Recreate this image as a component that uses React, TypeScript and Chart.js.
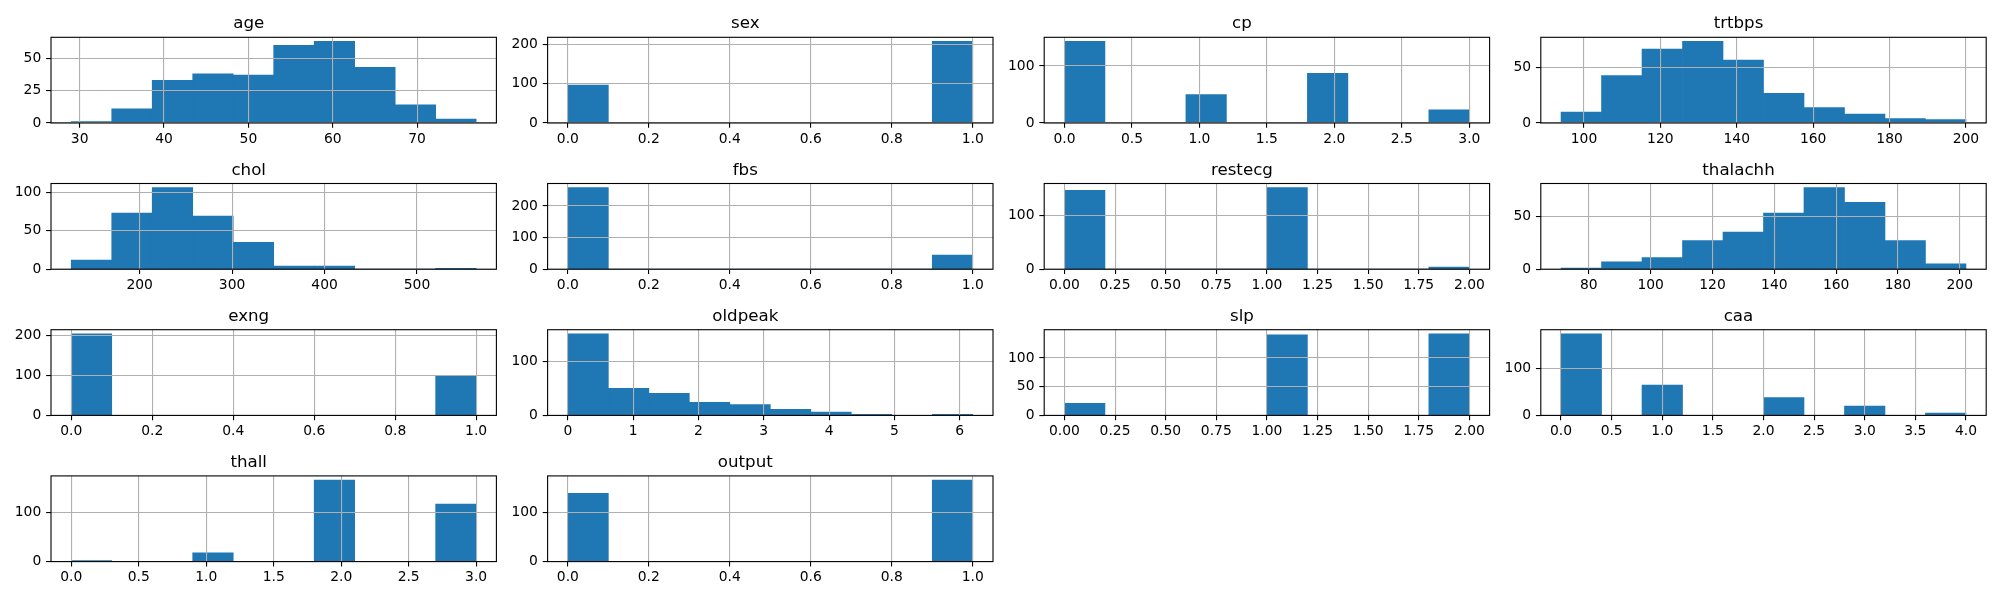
import React, { useEffect, useRef } from "react";
import { Chart, registerables } from "chart.js";

Chart.register(...registerables);

// ---------------- data ----------------
const titles = ["age", "sex", "cp", "trtbps", "chol", "fbs", "restecg", "thalachh", "exng", "oldpeak", "slp", "caa", "thall", "output"];

const ageRange = [29, 77];
const ageCounts = [1, 11, 33, 38, 37, 60, 63, 43, 14, 3];
const ageXTicks = ["30", "40", "50", "60", "70"];
const ageYTicks = ["0", "25", "50"];

const sexRange = [0, 1];
const sexCounts = [96, 0, 0, 0, 0, 0, 0, 0, 0, 207];
const sexXTicks = ["0.0", "0.2", "0.4", "0.6", "0.8", "1.0"];
const sexYTicks = ["0", "100", "200"];

const cpRange = [0, 3];
const cpCounts = [143, 0, 0, 50, 0, 0, 87, 0, 0, 23];
const cpXTicks = ["0.0", "0.5", "1.0", "1.5", "2.0", "2.5", "3.0"];
const cpYTicks = ["0", "100"];

const trtbpsRange = [94, 200];
const trtbpsCounts = [10, 43, 67, 74, 57, 27, 14, 8, 4, 3];
const trtbpsXTicks = ["100", "120", "140", "160", "180", "200"];
const trtbpsYTicks = ["0", "50"];

const cholRange = [126, 564];
const cholCounts = [12, 73, 106, 69, 35, 4, 4, 0, 0, 1];
const cholXTicks = ["200", "300", "400", "500"];
const cholYTicks = ["0", "50", "100"];

const fbsRange = [0, 1];
const fbsCounts = [258, 0, 0, 0, 0, 0, 0, 0, 0, 45];
const fbsXTicks = ["0.0", "0.2", "0.4", "0.6", "0.8", "1.0"];
const fbsYTicks = ["0", "100", "200"];

const restecgRange = [0, 2];
const restecgCounts = [147, 0, 0, 0, 0, 152, 0, 0, 0, 4];
const restecgXTicks = ["0.00", "0.25", "0.50", "0.75", "1.00", "1.25", "1.50", "1.75", "2.00"];
const restecgYTicks = ["0", "100"];

const thalachhRange = [71, 202];
const thalachhCounts = [1, 7, 11, 27, 35, 53, 77, 63, 27, 5];
const thalachhXTicks = ["80", "100", "120", "140", "160", "180", "200"];
const thalachhYTicks = ["0", "50"];

const exngRange = [0, 1];
const exngCounts = [204, 0, 0, 0, 0, 0, 0, 0, 0, 99];
const exngXTicks = ["0.0", "0.2", "0.4", "0.6", "0.8", "1.0"];
const exngYTicks = ["0", "100", "200"];

const oldpeakRange = [0, 6.2];
const oldpeakCounts = [151, 50, 41, 24, 20, 11, 6, 2, 0, 2];
const oldpeakXTicks = ["0", "1", "2", "3", "4", "5", "6"];
const oldpeakYTicks = ["0", "100"];

const slpRange = [0, 2];
const slpCounts = [21, 0, 0, 0, 0, 140, 0, 0, 0, 142];
const slpXTicks = ["0.00", "0.25", "0.50", "0.75", "1.00", "1.25", "1.50", "1.75", "2.00"];
const slpYTicks = ["0", "50", "100"];

const caaRange = [0, 4];
const caaCounts = [175, 0, 65, 0, 0, 38, 0, 20, 0, 5];
const caaXTicks = ["0.0", "0.5", "1.0", "1.5", "2.0", "2.5", "3.0", "3.5", "4.0"];
const caaYTicks = ["0", "100"];

const thallRange = [0, 3];
const thallCounts = [2, 0, 0, 18, 0, 0, 166, 0, 0, 117];
const thallXTicks = ["0.0", "0.5", "1.0", "1.5", "2.0", "2.5", "3.0"];
const thallYTicks = ["0", "100"];

const outputRange = [0, 1];
const outputCounts = [138, 0, 0, 0, 0, 0, 0, 0, 0, 165];
const outputXTicks = ["0.0", "0.2", "0.4", "0.6", "0.8", "1.0"];
const outputYTicks = ["0", "100"];

type Panel = { title: string; range: number[]; counts: number[]; xTicks: string[]; yTicks: string[] };

const panels: Panel[] = [
  { title: titles[0], range: ageRange, counts: ageCounts, xTicks: ageXTicks, yTicks: ageYTicks },
  { title: titles[1], range: sexRange, counts: sexCounts, xTicks: sexXTicks, yTicks: sexYTicks },
  { title: titles[2], range: cpRange, counts: cpCounts, xTicks: cpXTicks, yTicks: cpYTicks },
  { title: titles[3], range: trtbpsRange, counts: trtbpsCounts, xTicks: trtbpsXTicks, yTicks: trtbpsYTicks },
  { title: titles[4], range: cholRange, counts: cholCounts, xTicks: cholXTicks, yTicks: cholYTicks },
  { title: titles[5], range: fbsRange, counts: fbsCounts, xTicks: fbsXTicks, yTicks: fbsYTicks },
  { title: titles[6], range: restecgRange, counts: restecgCounts, xTicks: restecgXTicks, yTicks: restecgYTicks },
  { title: titles[7], range: thalachhRange, counts: thalachhCounts, xTicks: thalachhXTicks, yTicks: thalachhYTicks },
  { title: titles[8], range: exngRange, counts: exngCounts, xTicks: exngXTicks, yTicks: exngYTicks },
  { title: titles[9], range: oldpeakRange, counts: oldpeakCounts, xTicks: oldpeakXTicks, yTicks: oldpeakYTicks },
  { title: titles[10], range: slpRange, counts: slpCounts, xTicks: slpXTicks, yTicks: slpYTicks },
  { title: titles[11], range: caaRange, counts: caaCounts, xTicks: caaXTicks, yTicks: caaYTicks },
  { title: titles[12], range: thallRange, counts: thallCounts, xTicks: thallXTicks, yTicks: thallYTicks },
  { title: titles[13], range: outputRange, counts: outputCounts, xTicks: outputXTicks, yTicks: outputYTicks },
];

// ---------------- layout / style ----------------
const FONT = '"DejaVu Sans", "Liberation Sans", sans-serif';
const BAR = "#1f77b4";
const GRID = "#b0b0b0";
const LW = 1.1;
const TICK_LEN = 4.86;

const AX_LEFT0 = 51;
const AX_STEP_X = 496.6;
const AX_W = 445.4;
const AX_TOP0 = 37.3;
const AX_STEP_Y = 146.2;
const AX_H = 85.7;
const L = 50;
const T = 37;
const B = 30;
const R = 30;

const framePlugin = {
  id: "frame",
  afterDraw(chart: any) {
    const { ctx, chartArea } = chart;
    ctx.save();
    ctx.strokeStyle = "#000";
    ctx.lineWidth = LW;
    ctx.strokeRect(chartArea.left, chartArea.top, chartArea.right - chartArea.left, chartArea.bottom - chartArea.top);
    ctx.restore();
  },
};

function HistPanel({ panel, index }: { panel: Panel; index: number }) {
  const ref = useRef<HTMLCanvasElement | null>(null);
  const col = index % 4;
  const row = Math.floor(index / 4);
  const axLeft = AX_LEFT0 + col * AX_STEP_X;
  const axTop = AX_TOP0 + row * AX_STEP_Y;
  const cLeft = Math.floor(axLeft - L);
  const cTop = Math.floor(axTop - T);
  const padL = axLeft - L - cLeft;
  const padT = axTop - T - cTop;
  const cW = Math.ceil(axLeft + AX_W + R) - cLeft;
  const cH = Math.ceil(axTop + AX_H + B) - cTop;
  const padR = cW - (padL + L + AX_W);
  const padB = cH - (padT + T + AX_H + B);

  useEffect(() => {
    if (!ref.current) return;
    const [lo, hi] = panel.range;
    const n = panel.counts.length;
    const w = (hi - lo) / n;
    const span = hi - lo;
    const data = panel.counts.map((c, i) => ({ x: lo + (i + 0.5) * w, y: c }));
    const ymax = Math.max(...panel.counts) * 1.05;
    const tickFont = { family: FONT, size: 13.89 };

    const chart = new Chart(ref.current, {
      type: "bar",
      data: {
        datasets: [
          {
            data: data as any,
            backgroundColor: BAR,
            borderWidth: 0,
            barPercentage: 1,
            categoryPercentage: 1,
          },
        ],
      },
      options: {
        animation: false,
        responsive: false,
        devicePixelRatio: 1,
        events: [],
        layout: { padding: { left: padL, top: padT, right: padR, bottom: padB } },
        plugins: {
          legend: { display: false },
          tooltip: { enabled: false },
          title: {
            display: true,
            text: panel.title,
            color: "#000",
            font: { family: FONT, size: 16.67, weight: "normal", lineHeight: 1.2 },
            padding: { top: 13.7, bottom: 3.3 },
          },
        },
        scales: {
          x: {
            type: "linear",
            min: lo - 0.05 * span,
            max: hi + 0.05 * span,
            bounds: "data",
            offset: false,
            grid: {
              offset: false,
              color: GRID,
              lineWidth: LW,
              tickColor: "#000",
              tickLength: TICK_LEN,
              tickWidth: LW,
              z: 1,
            },
            border: { display: false },
            ticks: {
              autoSkip: false,
              maxRotation: 0,
              minRotation: 0,
              padding: 3,
              color: "#000",
              font: tickFont,
              callback: (_v: any, i: number) => panel.xTicks[i],
            },
            afterBuildTicks: (s: any) => {
              s.ticks = panel.xTicks.map((t) => ({ value: parseFloat(t) }));
            },
            afterFit: (s: any) => {
              s.height = B;
            },
          },
          y: {
            type: "linear",
            min: 0,
            max: ymax,
            bounds: "data",
            grid: {
              color: GRID,
              lineWidth: LW,
              tickColor: "#000",
              tickLength: TICK_LEN,
              tickWidth: LW,
              z: 1,
            },
            border: { display: false },
            ticks: {
              padding: 4.86,
              color: "#000",
              font: tickFont,
              callback: (_v: any, i: number) => panel.yTicks[i],
            },
            afterBuildTicks: (s: any) => {
              s.ticks = panel.yTicks.map((t) => ({ value: parseFloat(t) }));
            },
            afterFit: (s: any) => {
              s.width = L;
            },
          },
        },
      } as any,
      plugins: [framePlugin],
    });
    return () => chart.destroy();
  }, [panel]);

  return (
    <canvas
      ref={ref}
      width={cW}
      height={cH}
      style={{ position: "absolute", left: cLeft, top: cTop, width: cW, height: cH }}
    />
  );
}

export default function App() {
  return (
    <div style={{ position: "absolute", left: 0, top: 0, width: 2000, height: 600, background: "#fff", overflow: "hidden" }}>
      {panels.map((p, i) => (
        <HistPanel key={p.title} panel={p} index={i} />
      ))}
    </div>
  );
}
